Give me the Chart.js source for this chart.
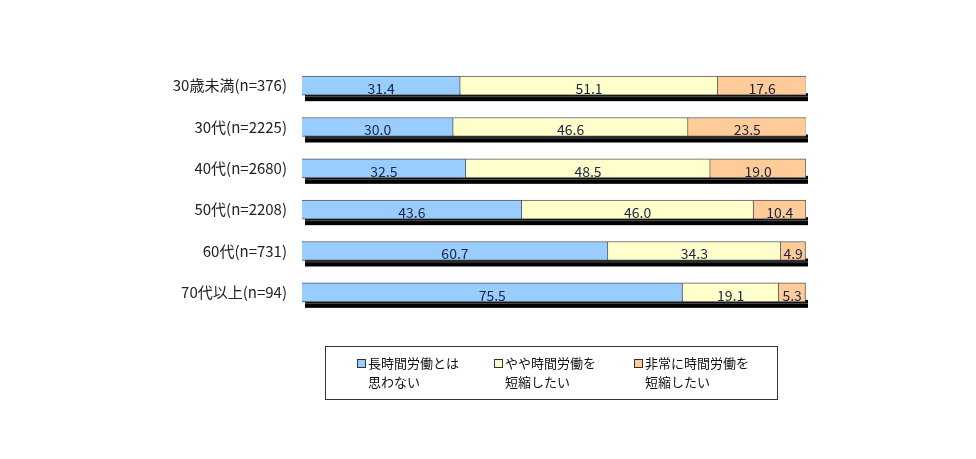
<!DOCTYPE html>
<html>
<head>
<meta charset="utf-8">
<script src="https://cdn.jsdelivr.net/npm/chart.js@4"></script>
<style>
  html, body { margin: 0; padding: 0; background: #fff; }
  #wrap { position: relative; width: 976px; height: 459px; }
  #legend {
    position: absolute; left: 325px; top: 346px; width: 453px; height: 54px;
    border: 1px solid #333; box-sizing: border-box;
    font-family: "Noto Sans CJK JP", sans-serif; font-size: 13px; color: #111;
  }
  .item { position: absolute; top: 6px; line-height: 19px; white-space: pre; }
  .box { position: absolute; left: -11px; top: 6px; width: 7px; height: 7px; border: 1px solid #333; }
</style>
</head>
<body>
<div id="wrap">
  <canvas id="chart" width="976" height="459"></canvas>
  <div id="legend"></div>
</div>
<script>
// ! DATA
const categories = [
  "30歳未満(n=376)",
  "30代(n=2225)",
  "40代(n=2680)",
  "50代(n=2208)",
  "60代(n=731)",
  "70代以上(n=94)",
];
const seriesNames = ["長時間労働とは\n思わない", "やや時間労働を\n短縮したい", "非常に時間労働を\n短縮したい"];
const notLong = [31.4, 30.0, 32.5, 43.6, 60.7, 75.5];
const somewhat = [51.1, 46.6, 48.5, 46.0, 34.3, 19.1];
const very = [17.6, 23.5, 19.0, 10.4, 4.9, 5.3];
const colors = ["#99CCFF", "#FFFFCC", "#FFCC99"];

const FONT = '"Noto Sans CJK JP", sans-serif';

// ! 3D SHADOW UNDER EACH BAR
const shadowPlugin = {
  id: "shadow",
  beforeDatasetsDraw(chart) {
    const ctx = chart.ctx;
    const x = chart.scales.x;
    const meta = chart.getDatasetMeta(0);
    ctx.save();
    meta.data.forEach((bar) => {
      const bottom = bar.y + bar.height / 2;
      const left = x.getPixelForValue(0) + 3;
      const right = x.getPixelForValue(100) + 2;
      ctx.fillStyle = "#000";
      ctx.fillRect(left, bottom - 2, right - left, 8);
      ctx.fillStyle = "#555";
      ctx.fillRect(left, bottom + 1, right - left, 1);
    });
    ctx.restore();
  },
};

// ! VALUE LABELS
const valuePlugin = {
  id: "values",
  afterDatasetsDraw(chart) {
    const ctx = chart.ctx;
    ctx.save();
    ctx.font = "14px " + FONT;
    ctx.fillStyle = "#1c2440";
    ctx.textAlign = "center";
    ctx.textBaseline = "middle";
    chart.data.datasets.forEach((ds, i) => {
      chart.getDatasetMeta(i).data.forEach((bar, j) => {
        const cx = (bar.x + bar.base) / 2;
        ctx.fillText(ds.data[j].toFixed(1), cx, bar.y + 3);
      });
    });
    ctx.restore();
  },
};

const ctx = document.querySelector("#chart").getContext("2d");
new Chart(ctx, {
  type: "bar",
  data: {
    labels: categories,
    datasets: [notLong, somewhat, very].map((d, i) => ({
      label: seriesNames[i],
      data: d,
      backgroundColor: colors[i],
      borderColor: "#555",
      borderWidth: 1,
      barThickness: 19,
    })),
  },
  options: {
    indexAxis: "y",
    responsive: false,
    animation: false,
    layout: { padding: { left: 0, right: 170, top: 65, bottom: 146 } },
    plugins: { legend: { display: false }, tooltip: { enabled: false } },
    scales: {
      x: { stacked: true, min: 0, max: 100, display: false },
      y: {
        stacked: true,
        grid: { display: false, drawTicks: false },
        border: { display: false },
        afterFit: (scale) => { scale.width = 302; },
        ticks: { color: "#222", padding: 15, font: { family: FONT, size: 15 } },
      },
    },
  },
  plugins: [shadowPlugin, valuePlugin],
});

// ! LEGEND
const legendEl = document.querySelector("#legend");
const legendX = [42, 179, 319];
seriesNames.forEach((name, i) => {
  const item = document.createElement("div");
  item.className = "item";
  item.style.left = legendX[i] + "px";
  item.textContent = name;
  const box = document.createElement("span");
  box.className = "box";
  box.style.background = colors[i];
  item.appendChild(box);
  legendEl.appendChild(item);
});
</script>
</body>
</html>
